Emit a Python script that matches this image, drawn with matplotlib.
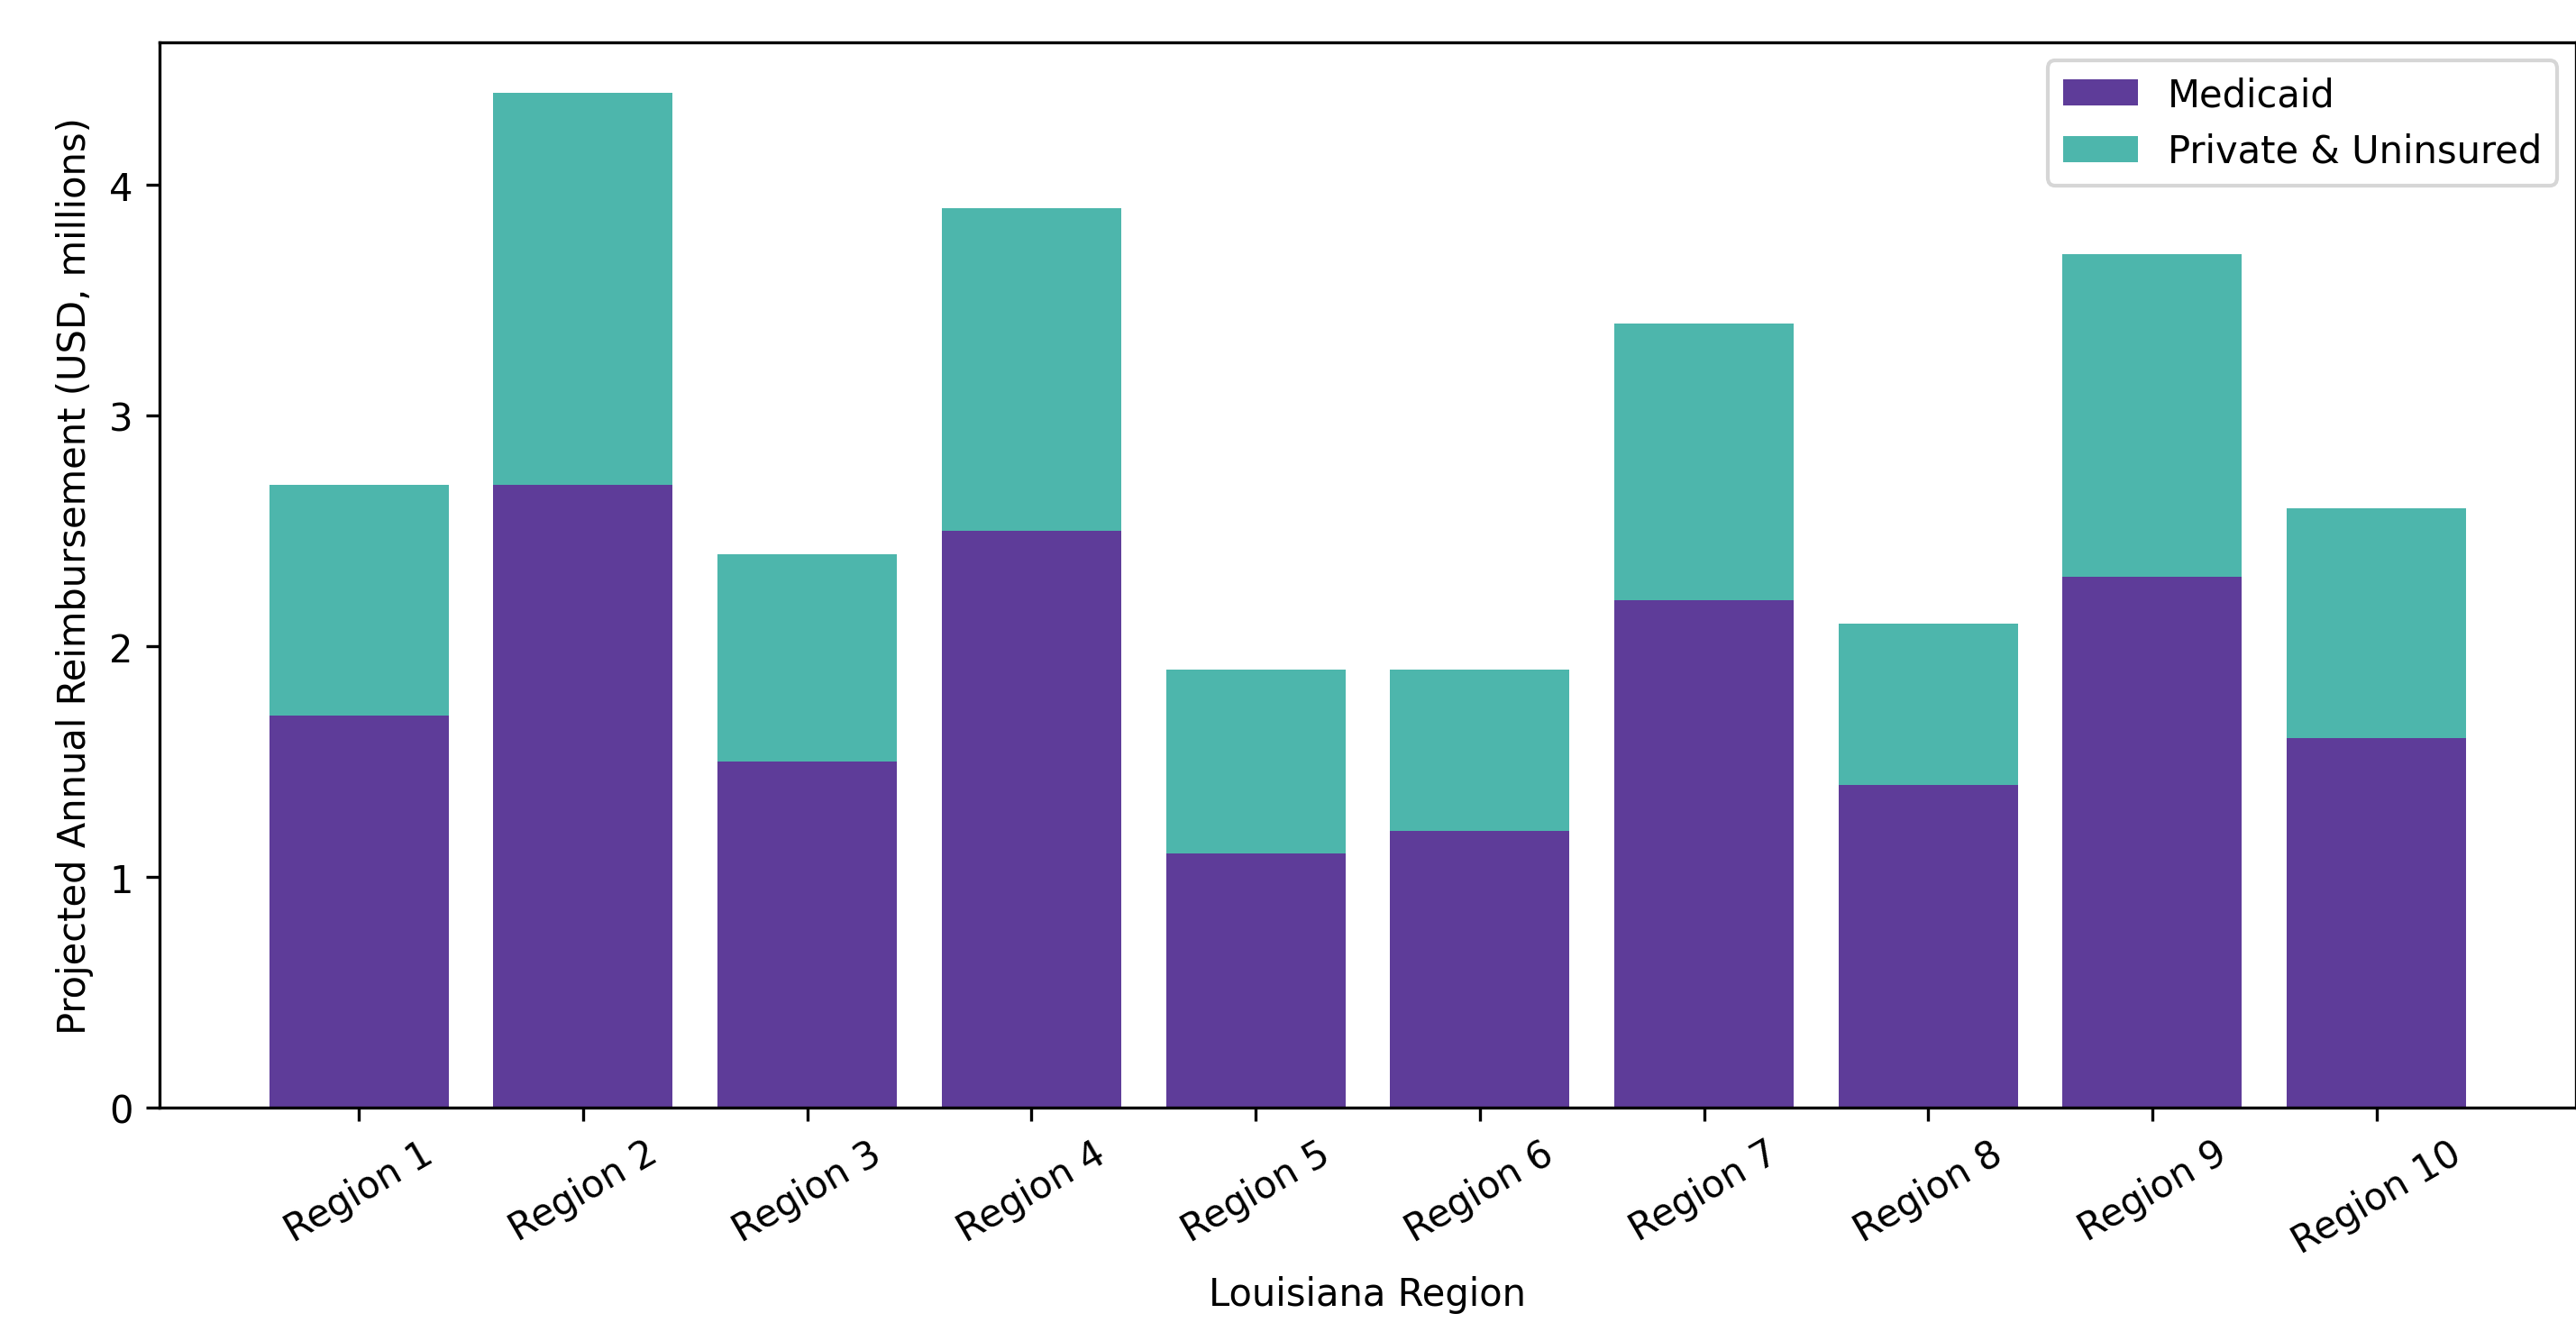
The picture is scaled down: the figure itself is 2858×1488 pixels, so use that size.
import matplotlib
matplotlib.use("Agg")
import matplotlib.pyplot as plt
import numpy as np

regions = ["Region 1", "Region 2", "Region 3", "Region 4", "Region 5",
           "Region 6", "Region 7", "Region 8", "Region 9", "Region 10"]
medicaid = [1.7, 2.7, 1.5, 2.5, 1.1, 1.2, 2.2, 1.4, 2.3, 1.6]
private_uninsured = [1.0, 1.7, 0.9, 1.4, 0.8, 0.7, 1.2, 0.7, 1.4, 1.0]

fig = plt.figure(figsize=(2858 / 300, 1489 / 300), dpi=300)
ax = fig.add_axes([0.0619, 0.174, 0.9381, 0.794])

x = np.arange(len(regions))
ax.bar(x, medicaid, width=0.8, color="#5E3C99", label="Medicaid")
ax.bar(x, private_uninsured, width=0.8, bottom=medicaid, color="#4DB6AC",
       label="Private & Uninsured")

ax.set_xticks(x)
ax.set_xticklabels(regions, rotation=30)
ax.set_xlabel("Louisiana Region")
ax.set_ylabel("Projected Annual Reimbursement (USD, millions)")
ax.set_yticks([0, 1, 2, 3, 4])
ax.legend(loc="upper right")

fig.savefig("out.png", dpi=300)
